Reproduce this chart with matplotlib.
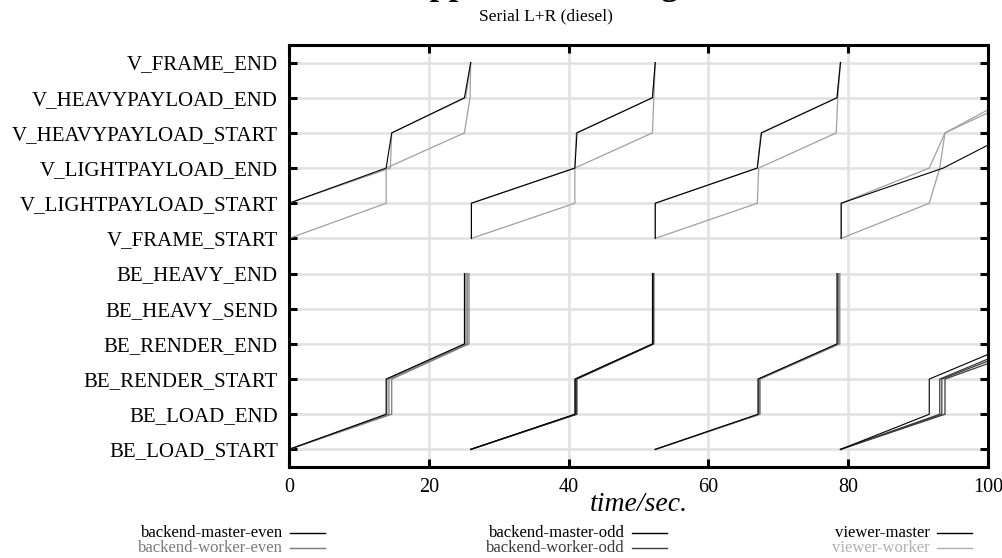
import numpy as np
import matplotlib
matplotlib.use("Agg")
import matplotlib.pyplot as plt
from matplotlib.lines import Line2D

# ---- states (y categories, bottom to top) ----
states = ["BE_LOAD_START", "BE_LOAD_END", "BE_RENDER_START", "BE_RENDER_END",
          "BE_HEAVY_SEND", "BE_HEAVY_END",
          "V_FRAME_START", "V_LIGHTPAYLOAD_START", "V_LIGHTPAYLOAD_END",
          "V_HEAVYPAYLOAD_START", "V_HEAVYPAYLOAD_END", "V_FRAME_END"]
be_first_state = 0   # BE_LOAD_START
v_first_state = 6    # V_FRAME_START

x_ticks = [0, 20, 40, 60, 80, 100]

# ---- time (sec.) each state is reached, one list per frame ----
# backend, even frames
backend_master_even = [[0.0, 13.9, 13.9, 25.1, 25.1, 25.1],
                       [52.4, 67.1, 67.1, 78.4, 78.4, 78.4]]
backend_worker_even_1 = [[0.0, 14.0, 14.0, 25.3, 25.3, 25.3],
                         [52.4, 67.2, 67.2, 78.5, 78.5, 78.5]]
backend_worker_even_2 = [[0.0, 14.3, 14.3, 25.5, 25.5, 25.5],
                         [52.4, 67.3, 67.3, 78.6, 78.6, 78.6]]
backend_worker_even_3 = [[0.0, 14.7, 14.7, 25.75, 25.75, 25.75],
                         [52.4, 67.4, 67.4, 78.8, 78.8, 78.8]]
# backend, odd frames
backend_master_odd = [[26.0, 40.9, 40.9, 52.0, 52.0, 52.0],
                      [78.9, 91.6, 91.6, 103.6]]
backend_worker_odd_1 = [[26.0, 41.0, 41.0, 52.1, 52.1, 52.1],
                        [78.9, 93.1, 93.1, 105.2]]
backend_worker_odd_2 = [[26.0, 41.1, 41.1, 52.1, 52.1, 52.1],
                        [78.9, 93.4, 93.4, 106.3]]
backend_worker_odd_3 = [[26.0, 41.2, 41.2, 52.2, 52.2, 52.2],
                        [78.9, 93.85, 93.85, 107.8]]
# viewer
viewer_master = [[0.0, 0.0, 13.9, 14.7, 25.1, 26.0],
                 [26.1, 26.1, 40.9, 41.2, 52.0, 52.4],
                 [52.4, 52.4, 67.0, 67.6, 78.4, 78.9],
                 [79.0, 79.0, 93.6, 103.4]]
viewer_worker_1 = [[0.0, 0.0, 14.5, 14.7, 25.3, 26.0],
                   [26.1, 26.1, 40.9, 41.1, 52.0, 52.4],
                   [52.4, 52.4, 67.0, 67.5, 78.4, 78.9],
                   [79.0, 79.0, 91.6, 93.85, 104.6]]
viewer_worker_2 = [[0.0, 13.9, 13.9, 25.1, 25.9, 26.0],
                   [26.1, 40.9, 40.9, 52.0, 52.2, 52.4],
                   [52.4, 67.0, 67.2, 78.3, 78.5, 78.9],
                   [79.0, 91.6, 93.1, 93.85, 103.2]]

# ---- styling ----
plt.rcParams.update({
    "font.family": ["Liberation Serif", "DejaVu Serif"],
    "axes.linewidth": 2.2,
})
c_master_even = "#000000"
c_worker_even = "#7a7a7a"
c_master_odd = "#000000"
c_worker_odd = "#3c3c3c"
c_viewer_master = "#000000"
c_viewer_worker = "#a0a0a0"
c_grid = "#e2e2e2"

fig = plt.figure(figsize=(10.02, 5.58), dpi=100)
ax = fig.add_axes([0.2884, 0.1631, 0.6976, 0.7563])

# draw order: greys first, black on top
layers = [
    (viewer_worker_2, v_first_state, c_viewer_worker, 0.9),
    (viewer_worker_1, v_first_state, c_viewer_worker, 0.9),
    (viewer_master, v_first_state, c_viewer_master, 0.8),
    (backend_worker_even_1, be_first_state, c_worker_even, 0.9),
    (backend_worker_even_2, be_first_state, c_worker_even, 0.9),
    (backend_worker_even_3, be_first_state, c_worker_even, 0.9),
    (backend_master_even, be_first_state, c_master_even, 0.8),
    (backend_worker_odd_1, be_first_state, c_worker_odd, 0.9),
    (backend_worker_odd_2, be_first_state, c_worker_odd, 0.9),
    (backend_worker_odd_3, be_first_state, c_worker_odd, 0.9),
    (backend_master_odd, be_first_state, c_master_odd, 0.8),
]
for frames, first, color, lw in layers:
    for t in frames:
        y = first + np.arange(len(t))
        ax.plot(t, y, color=color, linewidth=lw, zorder=3)

ax.set_xlim(0, 100)
ax.set_ylim(-0.5, len(states) - 0.5)
ax.set_xticks(x_ticks)
ax.set_xticklabels([str(v) for v in x_ticks], fontsize=14.5)
ax.set_yticks(range(len(states)))
ax.set_yticklabels(states, fontsize=15)
ax.tick_params(axis="both", direction="in", length=6, width=2.2,
               top=True, right=True, pad=8)
ax.grid(True, color=c_grid, linewidth=1.9, zorder=0)
ax.set_axisbelow(True)
for sp in ax.spines.values():
    sp.set_zorder(5)

ax.set_xlabel("time/sec.", fontsize=20, style="italic", labelpad=-4)

# title (cut off at the top of the picture) and subtitle
fig.text(0.541, 1.0085, "Application timing", ha="center", va="baseline",
         fontsize=24.5, fontweight="bold")
fig.text(0.545, 0.970, "Serial L+R (diesel)", ha="center", va="center",
         fontsize=12.5)

# ---- legend: text right-aligned, short line to its right ----
legend_items = [
    ("backend-master-even", c_master_even, 0, 0),
    ("backend-worker-even", c_worker_even, 0, 1),
    ("backend-master-odd", c_master_odd, 1, 0),
    ("backend-worker-odd", c_worker_odd, 1, 1),
    ("viewer-master", c_viewer_master, 2, 0),
    ("viewer-worker", "#b0b0b0", 2, 1),
]
col_right = [283, 625, 930]
row_y = [533, 548]
W, H = 1002.0, 558.0
for label, color, col, row in legend_items:
    xr = col_right[col] / W
    yy = 1 - row_y[row] / H
    fig.text(xr, yy, label, ha="right", va="center", fontsize=12, color=color)
    fig.add_artist(Line2D([xr + 7 / W, xr + 42 / W], [yy, yy],
                          color=color, linewidth=1.0, transform=fig.transFigure))

fig.savefig("out.png", dpi=100)
